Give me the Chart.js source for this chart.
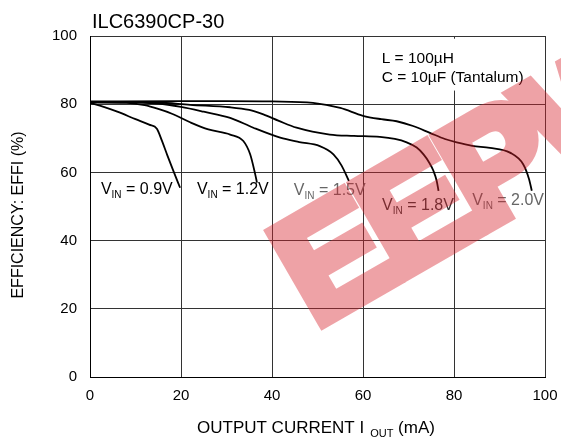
<!DOCTYPE html>
<html>
<head>
<meta charset="utf-8">
<script src="https://cdn.jsdelivr.net/npm/chart.js@4/dist/chart.umd.min.js"></script>
<style>
  body { margin: 0; background: #fff; }
  canvas { display: block; }
</style>
</head>
<body>
<canvas id="grafico" width="561" height="439"></canvas>
<script>
// datos (corriente mA, eficiencia %)
const vin09I = [0, 3, 6, 10, 13, 14.7, 15.8, 17, 18.3, 19.8];
const vin09E = [80.4, 79.2, 77.8, 75.6, 74.0, 72.8, 69.3, 65.0, 60.5, 55.5];

const vin12I = [0, 8, 12, 15, 18, 22, 26, 30.8, 33.7, 35.2, 36.3, 36.7];
const vin12E = [80.5, 80.4, 79.7, 78.6, 77.2, 74.7, 72.6, 71.1, 69.2, 65.3, 59.5, 57];

const vin15I = [0, 10, 15, 20, 25, 30.8, 35.9, 41.8, 46, 50.5, 53.5, 55.3, 56.9];
const vin15E = [80.6, 80.5, 80.2, 79.2, 77.8, 76.0, 73.1, 70.2, 68.9, 67.7, 65.3, 62, 57.5];

const vin18I = [0, 15, 22, 30.8, 35, 38.1, 41.5, 45.4, 52.7, 58, 63.7, 67, 69.6, 71.8, 73.3, 74.5, 75.5, 76.2, 76.6];
const vin18E = [80.7, 80.5, 79.8, 79.1, 78.3, 77.0, 75.1, 73.1, 71.1, 70.7, 70.4, 69.8, 68.8, 67.3, 65.3, 63, 60.4, 57.5, 54.6];

const vin20I = [0, 20, 30, 40, 49, 55, 60, 64, 67.4, 71, 74.7, 78, 80.6, 84, 87.9, 92.3, 95.2, 96.5, 97.1];
const vin20E = [80.8, 80.9, 80.9, 80.8, 80.4, 78.9, 76.6, 75.6, 75.0, 73.6, 71.6, 69.8, 68.8, 67.8, 67.2, 65.8, 62.4, 58, 54.6];

const xTicks = [0, 20, 40, 60, 80, 100];
const yTicks = [0, 20, 40, 60, 80, 100];

const series = [
  { name: '0.9V', i: vin09I, e: vin09E },
  { name: '1.2V', i: vin12I, e: vin12E },
  { name: '1.5V', i: vin15I, e: vin15E },
  { name: '1.8V', i: vin18I, e: vin18E },
  { name: '2.0V', i: vin20I, e: vin20E }
];

const FONT = '"Liberation Sans", Arial, sans-serif';

function puntos(xs, ys) {
  return xs.map((x, k) => ({ x: x, y: ys[k] }));
}

// etiqueta V con subíndice IN
function etiquetaVin(ctx, x, y, valor, color) {
  ctx.fillStyle = color;
  ctx.textAlign = 'left';
  ctx.textBaseline = 'alphabetic';
  ctx.font = '16px ' + FONT;
  ctx.fillText('V', x, y);
  let w = ctx.measureText('V').width;
  ctx.font = '10px ' + FONT;
  ctx.fillText('IN', x + w, y + 4);
  w += ctx.measureText('IN').width;
  ctx.font = '16px ' + FONT;
  ctx.fillText(' = ' + valor, x + w, y);
}

const textos = {
  id: 'textos',
  afterDatasetsDraw(chart) {
    const ctx = chart.ctx;
    const sx = chart.scales.x, sy = chart.scales.y;
    ctx.save();

    // caja de la nota (tapa la rejilla)
    ctx.fillStyle = '#fff';
    ctx.fillRect(sx.getPixelForValue(63), sy.getPixelForValue(99.2), 100, sy.getPixelForValue(84) - sy.getPixelForValue(99.2));
    ctx.fillStyle = '#000';
    ctx.font = '15.5px ' + FONT;
    ctx.textAlign = 'left';
    ctx.textBaseline = 'alphabetic';
    ctx.fillText('L = 100\u00b5H', sx.getPixelForValue(64.1), sy.getPixelForValue(92));
    ctx.fillText('C = 10\u00b5F (Tantalum)', sx.getPixelForValue(64.1), sy.getPixelForValue(86.4));

    // etiquetas de las curvas
    etiquetaVin(ctx, sx.getPixelForValue(2.4), sy.getPixelForValue(53.7), '0.9V', '#000');
    etiquetaVin(ctx, sx.getPixelForValue(23.5), sy.getPixelForValue(53.7), '1.2V', '#000');
    etiquetaVin(ctx, sx.getPixelForValue(44.8), sy.getPixelForValue(53.5), '1.5V', '#666');
    etiquetaVin(ctx, sx.getPixelForValue(64.2), sy.getPixelForValue(49.0), '1.8V', '#333');
    etiquetaVin(ctx, sx.getPixelForValue(84.0), sy.getPixelForValue(50.3), '2.0V', '#666');

    // título
    ctx.fillStyle = '#000';
    ctx.font = '20px ' + FONT;
    ctx.fillText('ILC6390CP-30', 92, 28);

    // título eje x con subíndice
    ctx.font = '17px ' + FONT;
    let x0 = 197, y0 = 433;
    ctx.fillText('OUTPUT CURRENT I', x0, y0);
    x0 += ctx.measureText('OUTPUT CURRENT I').width + 6;
    ctx.font = '11px ' + FONT;
    ctx.fillText('OUT', x0, y0 + 4);
    x0 += ctx.measureText('OUT').width;
    ctx.font = '17px ' + FONT;
    ctx.fillText(' (mA)', x0, y0);

    // título eje y
    ctx.translate(23, 215);
    ctx.rotate(-Math.PI / 2);
    ctx.textAlign = 'center';
    ctx.font = '16px ' + FONT;
    ctx.fillText('EFFICIENCY: EFFI (%)', 0, 0);
    ctx.restore();
  },
  afterDraw(chart) {
    // marca de agua: se pinta opaca aparte y luego con transparencia
    const ctx = chart.ctx;
    const off = document.createElement('canvas');
    off.width = chart.width;
    off.height = chart.height;
    const o = off.getContext('2d');
    o.translate(323, 330);
    o.rotate(-30 * Math.PI / 180);
    o.fillStyle = 'rgb(215, 35, 45)';
    o.strokeStyle = 'rgb(215, 35, 45)';
    o.lineWidth = 12;
    o.lineJoin = 'miter';
    o.font = 'bold 152px ' + FONT;
    o.letterSpacing = '-6px';
    o.textAlign = 'left';
    o.textBaseline = 'alphabetic';
    o.fillText('EEPW', -6, -6);
    o.strokeText('EEPW', -6, -6);
    ctx.save();
    ctx.globalAlpha = 0.42;
    ctx.drawImage(off, 0, 0);
    ctx.restore();
  }
};

new Chart(document.getElementById('grafico').getContext('2d'), {
  type: 'line',
  data: {
    datasets: series.map(s => ({
      label: s.name,
      data: puntos(s.i, s.e),
      borderColor: '#000',
      borderWidth: 1.8,
      pointRadius: 0,
      fill: false,
      cubicInterpolationMode: 'monotone'
    }))
  },
  options: {
    responsive: false,
    animation: false,
    devicePixelRatio: 1,
    layout: { padding: { top: 36, right: 16, left: 0, bottom: 0 } },
    plugins: { legend: { display: false }, tooltip: { enabled: false } },
    scales: {
      x: {
        type: 'linear',
        min: 0, max: 100,
        afterFit: s => { s.height = 62; s.paddingLeft = 0; s.paddingRight = 0; },
        afterBuildTicks: s => { s.ticks = xTicks.map(v => ({ value: v })); },
        grid: { color: '#333', lineWidth: 1, drawTicks: false },
        border: { color: '#000', width: 1 },
        ticks: { color: '#000', font: { size: 15, family: FONT }, padding: 10, maxRotation: 0 }
      },
      y: {
        type: 'linear',
        min: 0, max: 100,
        afterFit: s => { s.width = 90; s.paddingTop = 0; s.paddingBottom = 0; },
        afterBuildTicks: s => { s.ticks = yTicks.map(v => ({ value: v })); },
        grid: { color: '#333', lineWidth: 1, drawTicks: false },
        border: { color: '#000', width: 1 },
        ticks: { color: '#000', font: { size: 15, family: FONT }, padding: 13 }
      }
    }
  },
  plugins: [textos]
});
</script>
</body>
</html>
